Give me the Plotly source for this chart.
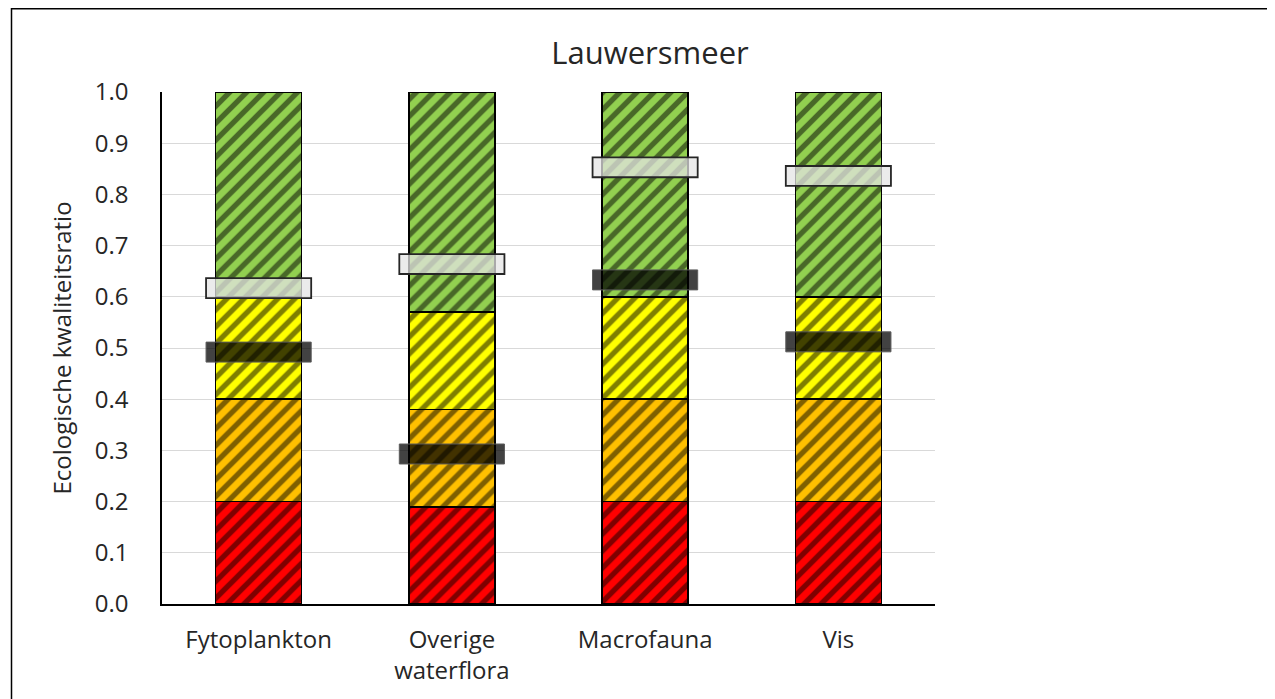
import plotly.graph_objects as go

categories = ["Fytoplankton", "Overige<br>waterflora", "Macrofauna", "Vis"]
red_vals = [0.20, 0.19, 0.20, 0.20]
orange_vals = [0.20, 0.19, 0.20, 0.20]
yellow_vals = [0.20, 0.19, 0.20, 0.20]
green_vals = [0.40, 0.43, 0.40, 0.40]
light_marker = [0.617, 0.664, 0.853, 0.836]
dark_marker = [0.492, 0.293, 0.633, 0.512]
y_ticks = [0.0, 0.1, 0.2, 0.3, 0.4, 0.5, 0.6, 0.7, 0.8, 0.9, 1.0]

segments = [
    ("Slecht", red_vals, "#FF0000"),
    ("Ontoereikend", orange_vals, "#FFC000"),
    ("Matig", yellow_vals, "#FFFF00"),
    ("Goed", green_vals, "#92D050"),
]

fig = go.Figure()
for name, vals, col in segments:
    fig.add_trace(go.Bar(
        x=categories, y=vals, name=name, width=0.445,
        marker=dict(
            color=col,
            line=dict(color="black", width=1.6),
            pattern=dict(shape="/", fgcolor="black", bgcolor=col, size=12, solidity=0.45, fillmode="overlay"),
        ),
        showlegend=False, hoverinfo="skip",
    ))

shapes = []
hw = 0.272
hh = 0.0195
for i, v in enumerate(light_marker):
    shapes.append(dict(type="rect", xref="x", yref="y", x0=i - hw, x1=i + hw, y0=v - hh, y1=v + hh,
                       fillcolor="rgba(228,228,228,0.74)", line=dict(color="#262626", width=1.8), layer="above"))
for i, v in enumerate(dark_marker):
    shapes.append(dict(type="rect", xref="x", yref="y", x0=i - hw, x1=i + hw, y0=v - hh, y1=v + hh,
                       fillcolor="rgba(0,0,0,0.74)", line=dict(color="#5a5a5a", width=1), layer="above"))

W, H = 1275, 699
L, T = 154, 84
PW, PH = 773, 512
R = W - L - PW
B = H - T - PH

def px_x(p):
    return (p - L) / PW

def px_y(p):
    return (H - B - p) / PH

shapes.append(dict(type="rect", xref="paper", yref="paper", x0=px_x(3.5), x1=px_x(1265), y0=px_y(705), y1=px_y(0.8),
                   line=dict(color="black", width=1.5), fillcolor="rgba(0,0,0,0)", layer="below"))

fig.update_layout(
    barmode="stack",
    width=W, height=H,
    margin=dict(l=L, r=R, t=T, b=B),
    plot_bgcolor="white", paper_bgcolor="white",
    font=dict(family="Open Sans, DejaVu Sans, sans-serif", color="#262626"),
    title=dict(text="Lauwersmeer", x=642 / W, xanchor="center", y=1 - 45 / H, yanchor="middle",
               font=dict(size=31, color="#262626")),
    shapes=shapes,
)
fig.update_xaxes(
    showline=True, linecolor="black", linewidth=1.5, ticks="", tickfont=dict(size=24),
    showgrid=False, ticklabelstandoff=13,
)
fig.update_yaxes(
    range=[0, 1.0], tickvals=y_ticks, ticktext=[f"{t:.1f}" for t in y_ticks],
    showline=True, linecolor="black", linewidth=1.5, gridcolor="#d9d9d9", gridwidth=1,
    tickfont=dict(size=24), ticks="", ticklabelstandoff=27,
    title=dict(text="Ecologische kwaliteitsratio", font=dict(size=24), standoff=16),
    zeroline=False,
)

fig.write_html("out.html")
